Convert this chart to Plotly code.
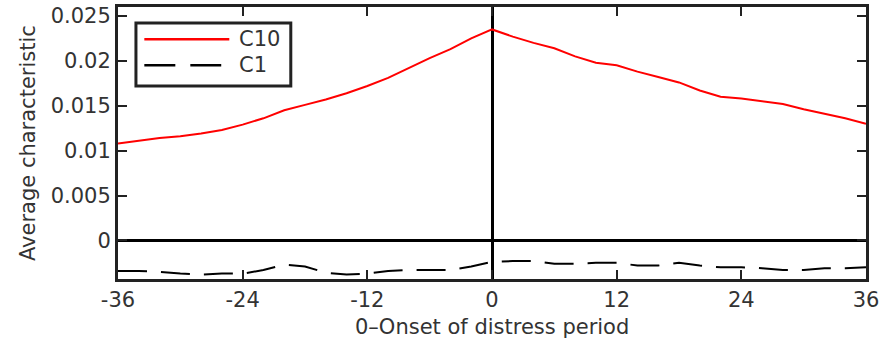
import plotly.graph_objects as go

months = [-36, -34, -32, -30, -28, -26, -24, -22, -20, -18, -16, -14, -12, -10, -8, -6, -4, -2,
          0, 2, 4, 6, 8, 10, 12, 14, 16, 18, 20, 22, 24, 26, 28, 30, 32, 34, 36]

c10 = [0.0108, 0.0111, 0.0114, 0.0116, 0.0119, 0.0123, 0.0129, 0.0136, 0.0145, 0.0151,
       0.0157, 0.0164, 0.0172, 0.0181, 0.0192, 0.0203, 0.0213, 0.0225,
       0.0235, 0.0227, 0.0220, 0.0214, 0.0205, 0.0198, 0.0195, 0.0188, 0.0182, 0.0176,
       0.0167, 0.0160, 0.0158, 0.0155, 0.0152, 0.0146, 0.0141, 0.0136, 0.0130]

c1 = [-0.0034, -0.0034, -0.0035, -0.0037, -0.0038, -0.0037, -0.0037, -0.0033, -0.0027, -0.0029,
      -0.0036, -0.0038, -0.0037, -0.0034, -0.0033, -0.0033, -0.0033, -0.0029,
      -0.0024, -0.0023, -0.0023, -0.0026, -0.0026, -0.0025, -0.0025, -0.0028, -0.0028, -0.0025,
      -0.0028, -0.0030, -0.0030, -0.0031, -0.0033, -0.0033, -0.0031, -0.0031, -0.0030]

x_ticks = [-36, -24, -12, 0, 12, 24, 36]
x_tick_labels = ["-36", "-24", "-12", "0", "12", "24", "36"]
y_ticks = [0, 0.005, 0.01, 0.015, 0.02, 0.025]
y_tick_labels = ["0", "0.005", "0.01", "0.015", "0.02", "0.025"]
series_names = ["C10", "C1"]
x_title = "0–Onset of distress period"
y_title = "Average characteristic"

FONT = "DejaVu Sans, Liberation Sans, Arial, sans-serif"
TXT = "#333333"
FRAME = "#222222"
C10_STYLE = dict(color="#ff0000", width=2)
C1_STYLE = dict(color="#000000", width=2, dash="29px,14px")

fig = go.Figure()
fig.add_trace(go.Scatter(x=months, y=c10, mode="lines", name=series_names[0], line=C10_STYLE))
fig.add_trace(go.Scatter(x=months, y=c1, mode="lines", name=series_names[1], line=C1_STYLE))

axis_common = dict(showgrid=False, showline=True, linecolor=FRAME, linewidth=3, mirror="ticks",
                   ticks="inside", ticklen=9, tickwidth=2, tickcolor=FRAME,
                   zeroline=True, zerolinecolor="#000000", zerolinewidth=3,
                   automargin=False,
                   tickfont=dict(family=FONT, size=21, color=TXT))

fig.update_xaxes(range=[-36, 36], tickvals=x_ticks, ticktext=x_tick_labels, **axis_common)
fig.update_yaxes(range=[-0.0043, 0.026], tickvals=y_ticks, ticktext=y_tick_labels, **axis_common)

# Legend box drawn as layout decoration (long line samples as in the reference)
shapes = [
    dict(type="rect", xref="paper", yref="paper", x0=0.024, x1=0.231, y0=0.710, y1=0.941,
         line=dict(color=FRAME, width=3), fillcolor="white", layer="above"),
    dict(type="line", xref="paper", yref="paper", x0=0.0352, x1=0.1488, y0=0.881, y1=0.881,
         line=dict(color=C10_STYLE["color"], width=2.5), layer="above"),
    dict(type="line", xref="paper", yref="paper", x0=0.0352, x1=0.1380, y0=0.786, y1=0.786,
         line=dict(color="#000000", width=2.5, dash="31px,15px"), layer="above"),
]
annotations = [
    dict(xref="paper", yref="paper", x=0.159, y=0.881, text=series_names[0], showarrow=False,
         xanchor="left", yanchor="middle", font=dict(family=FONT, size=21, color=TXT)),
    dict(xref="paper", yref="paper", x=0.159, y=0.786, text=series_names[1], showarrow=False,
         xanchor="left", yanchor="middle", font=dict(family=FONT, size=21, color=TXT)),
    dict(xref="paper", yref="paper", x=0.5, y=-0.176, text=x_title, showarrow=False,
         xanchor="center", yanchor="middle", font=dict(family=FONT, size=21, color=TXT)),
    dict(xref="paper", yref="paper", x=-0.1203, y=0.5, text=y_title, showarrow=False,
         textangle=-90, xanchor="center", yanchor="middle",
         font=dict(family=FONT, size=21, color=TXT)),
]

fig.update_layout(
    width=880, height=342,
    margin=dict(l=118, r=14, t=7, b=63),
    paper_bgcolor="white", plot_bgcolor="white",
    showlegend=False,
    shapes=shapes, annotations=annotations,
)

fig.write_html("out.html", config={"displayModeBar": False},
               post_script="document.body.style.margin='0';")
